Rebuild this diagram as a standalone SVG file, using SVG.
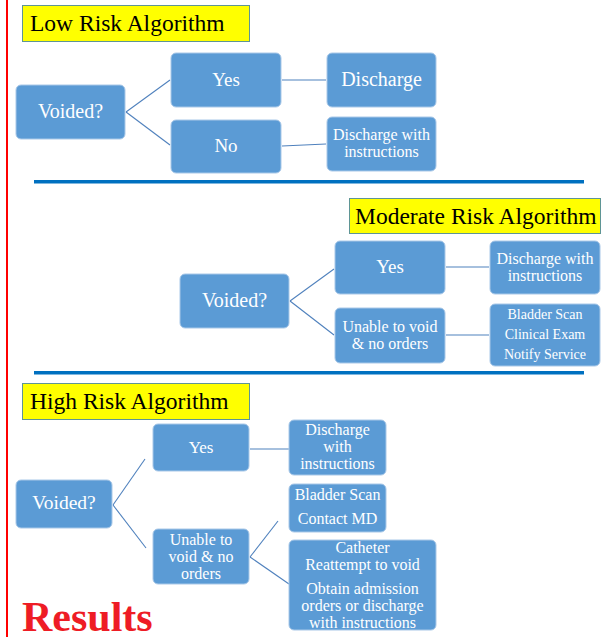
<svg xmlns="http://www.w3.org/2000/svg" width="602" height="637" viewBox="0 0 602 637">
<style>
.title{fill:#ffff00;stroke:#5f9595;stroke-width:1}
.tt{font-family:"Liberation Serif","Times New Roman",serif;font-size:23.5px;fill:#000}
.box{fill:#5b9bd5;stroke:#a9c8e8;stroke-width:1}
.nt{font-family:"Liberation Serif","Times New Roman",serif;fill:#fff;text-anchor:middle}
.conn line{stroke:#4f81bd;stroke-width:1.1}
</style>
<rect width="602" height="637" fill="#fff"/>
<rect x="6" y="0" width="2" height="637" fill="#ff0000"/>
<rect x="34" y="180" width="550" height="3.5" fill="#0070c0"/>
<rect x="34" y="371" width="550" height="3.5" fill="#0070c0"/>

<g id="title-low"><rect class="title" x="22.5" y="5.5" width="227" height="36"/><text class="tt" x="30" y="31">Low Risk Algorithm</text></g>
<g id="title-mod"><rect class="title" x="349.5" y="198.5" width="251" height="35"/><text class="tt" x="355" y="224">Moderate Risk Algorithm</text></g>
<g id="title-high"><rect class="title" x="22.5" y="383.5" width="227" height="36"/><text class="tt" x="30" y="409">High Risk Algorithm</text></g>

<g class="conn" id="connectors">
<line x1="126" y1="112" x2="170" y2="80"/>
<line x1="126" y1="112" x2="170" y2="145"/>
<line x1="282" y1="80" x2="326" y2="80"/>
<line x1="282" y1="146" x2="326" y2="144"/>
<line x1="290" y1="301" x2="334" y2="269"/>
<line x1="290" y1="301" x2="334" y2="335"/>
<line x1="446" y1="267" x2="489" y2="267"/>
<line x1="446" y1="335" x2="489" y2="335"/>
<line x1="113" y1="505" x2="145" y2="459"/>
<line x1="113" y1="505" x2="146" y2="548"/>
<line x1="250" y1="449" x2="289" y2="449"/>
<line x1="250" y1="557" x2="278" y2="521"/>
<line x1="250" y1="557" x2="289" y2="584"/>
</g>

<g id="low-voided"><rect class="box" x="16" y="85" width="109" height="54" rx="5"/><text class="nt" x="70.5" y="118" font-size="20">Voided?</text></g>
<g id="low-yes"><rect class="box" x="171" y="53" width="110" height="54" rx="5"/><text class="nt" x="226" y="86" font-size="19">Yes</text></g>
<g id="low-no"><rect class="box" x="171" y="120" width="110" height="53" rx="5"/><text class="nt" x="226" y="152" font-size="19">No</text></g>
<g id="low-discharge"><rect class="box" x="327" y="53" width="109" height="54" rx="5"/><text class="nt" x="381.5" y="86" font-size="20">Discharge</text></g>
<g id="low-dwi"><rect class="box" x="327" y="117" width="109" height="54" rx="5"/><text class="nt" x="381.5" y="140" font-size="16">Discharge with</text><text class="nt" x="381.5" y="157" font-size="16">instructions</text></g>

<g id="mod-voided"><rect class="box" x="180" y="274" width="109" height="54" rx="5"/><text class="nt" x="234.5" y="307" font-size="20">Voided?</text></g>
<g id="mod-yes"><rect class="box" x="335" y="241" width="110" height="53" rx="5"/><text class="nt" x="390" y="273" font-size="19">Yes</text></g>
<g id="mod-unable"><rect class="box" x="335" y="308" width="110" height="55" rx="5"/><text class="nt" x="390" y="332" font-size="16">Unable to void</text><text class="nt" x="390" y="349" font-size="16">&amp; no orders</text></g>
<g id="mod-dwi"><rect class="box" x="490" y="241" width="110" height="53" rx="5"/><text class="nt" x="545" y="264" font-size="16">Discharge with</text><text class="nt" x="545" y="281" font-size="16">instructions</text></g>
<g id="mod-bladder"><rect class="box" x="490" y="304" width="110" height="62" rx="5"/><text class="nt" x="545" y="319" font-size="14">Bladder Scan</text><text class="nt" x="545" y="339" font-size="14">Clinical Exam</text><text class="nt" x="545" y="359" font-size="14">Notify Service</text></g>

<g id="high-voided"><rect class="box" x="16" y="480" width="96" height="48" rx="5"/><text class="nt" x="64" y="509" font-size="19.5">Voided?</text></g>
<g id="high-yes"><rect class="box" x="153" y="424" width="96" height="47" rx="5"/><text class="nt" x="201" y="453" font-size="17">Yes</text></g>
<g id="high-unable"><rect class="box" x="153" y="529" width="96" height="55" rx="5"/><text class="nt" x="201" y="545" font-size="16">Unable to</text><text class="nt" x="201" y="562" font-size="16">void &amp; no</text><text class="nt" x="201" y="579" font-size="16">orders</text></g>
<g id="high-dwi"><rect class="box" x="289" y="420" width="97" height="55" rx="5"/><text class="nt" x="337.5" y="435" font-size="16">Discharge</text><text class="nt" x="337.5" y="452" font-size="16">with</text><text class="nt" x="337.5" y="469" font-size="16">instructions</text></g>
<g id="high-bladder"><rect class="box" x="289" y="484" width="97" height="48" rx="5"/><text class="nt" x="337.5" y="500" font-size="16">Bladder Scan</text><text class="nt" x="337.5" y="524" font-size="16">Contact MD</text></g>
<g id="high-catheter"><rect class="box" x="289" y="540" width="147" height="90" rx="5"/><text class="nt" x="362.5" y="553" font-size="16">Catheter</text><text class="nt" x="362.5" y="570" font-size="16">Reattempt to void</text><text class="nt" x="362.5" y="594" font-size="16">Obtain admission</text><text class="nt" x="362.5" y="611" font-size="16">orders or discharge</text><text class="nt" x="362.5" y="628" font-size="16">with instructions</text></g>

<text x="22" y="631" font-family="'Liberation Serif','Times New Roman',serif" font-weight="bold" font-size="42" fill="#ee1c25">Results</text>
</svg>
